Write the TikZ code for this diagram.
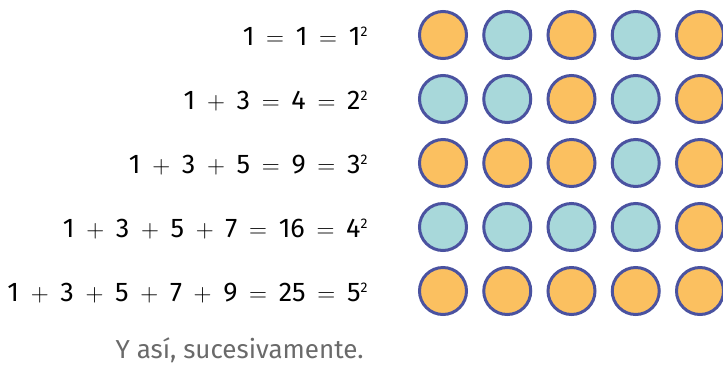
\documentclass[tikz,border=0pt]{standalone}
\usepackage{fontspec}
\setmainfont{Fira Sans}
\definecolor{sqorange}{HTML}{FBC060}
\definecolor{sqteal}{HTML}{A8D8DA}
\definecolor{sqline}{HTML}{4A52A0}
\definecolor{notegray}{HTML}{6A6A6A}
\newcommand\opp{\hspace{11.7pt}$+$\hspace{11.7pt}}
\newcommand\ope{\hspace{11.7pt}$=$\hspace{11.7pt}}
\newcommand\sq{\raisebox{8.5pt}{\fontsize{14}{14}\selectfont 2}}

\begin{document}
\begin{tikzpicture}[x=1pt,y=-1pt,
  dot/.style={circle, draw=sqline, line width=3pt, minimum size=47pt, inner sep=0pt},
  eq/.style={anchor=base east, font=\fontsize{27}{32}\selectfont}]
  \useasboundingbox (0,0) rectangle (723,365);
  % grid of odd L-shapes
  \foreach \r in {1,...,5} {
    \foreach \c in {1,...,5} {
      \pgfmathtruncatemacro\k{max(\r,\c)}
      \ifodd\k \def\col{sqorange}\else\def\col{sqteal}\fi
      \node[dot, fill=\col] (c-\r-\c) at ({443+64.25*(\c-1)},{35+64*(\r-1)}) {};
    }
  }
  % sums
  \foreach \r/\txt in {1/{1\ope1\ope1\sq},
                       2/{1\opp3\ope4\ope2\sq},
                       3/{1\opp3\opp5\ope9\ope3\sq},
                       4/{1\opp3\opp5\opp7\ope16\ope4\sq},
                       5/{1\opp3\opp5\opp7\opp9\ope25\ope5\sq}} {
    \node[eq] (s-\r) at (371,{45+64*(\r-1)}) {\txt};
  }
  \node[eq, text=notegray, font=\fontsize{26}{30}\selectfont] (note) at (367,358) {Y así, sucesivamente.};
\end{tikzpicture}
\end{document}
